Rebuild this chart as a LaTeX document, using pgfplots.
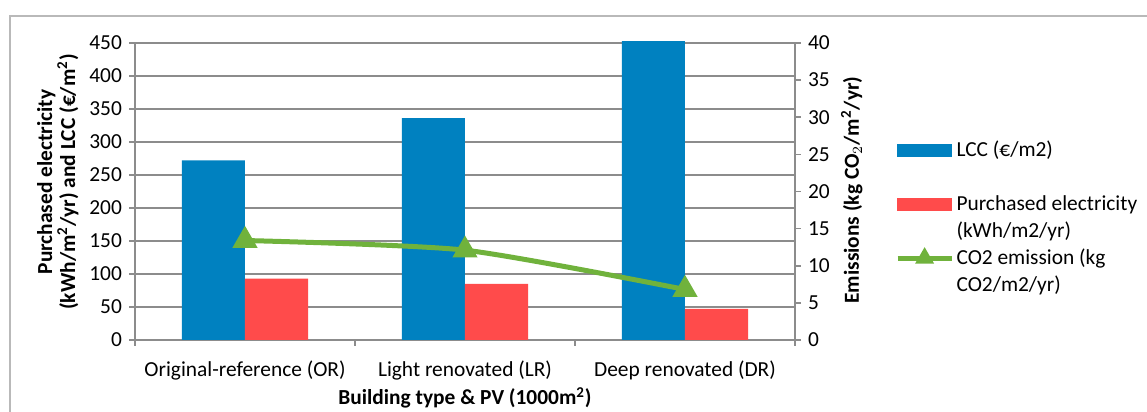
\documentclass[border=0pt]{standalone}
\usepackage{pgfplots}
\pgfplotsset{compat=1.18}
\usepackage{fontspec}
\setmainfont{Carlito}
\definecolor{lccblue}{RGB}{0,129,192}
\definecolor{elred}{RGB}{255,75,75}
\definecolor{co2green}{RGB}{112,178,60}
\definecolor{gridgray}{RGB}{140,140,140}
\definecolor{framegray}{RGB}{185,185,185}
\pgfplotsset{
  co2 legend/.style={legend image code/.code={%
    \draw[mark repeat=2, mark phase=2, mark size=3pt, ##1]
      plot coordinates {(0pt,6.75pt) (13.5pt,6.75pt) (27pt,6.75pt)};}},
}

\begin{document}
\fontsize{10.7}{13.5}\selectfont
\begin{tikzpicture}
\useasboundingbox (0,0) rectangle (573.5pt,206pt);
\draw[framegray, line width=1.2pt] (5pt,-1pt) -- (5pt,198pt) -- (575pt,198pt);
\pgfplotsset{
  common/.style={
    scale only axis, width=330pt, height=148.5pt,
    at={(67.5pt,36pt)}, anchor=south west,
    xmin=-0.5, xmax=2.5,
    /pgf/number format/assume math mode=true,
    tick label style={font=\fontsize{10.7}{13}\selectfont},
    axis line style={gridgray, line width=0.8pt},
    tick style={gridgray, line width=0.8pt},
    tick align=outside, major tick length=2.8pt,
  }
}
\begin{axis}[common,
  ybar=0pt, bar width=31.5pt, clip=false,
  ymin=0, ymax=450, ytick={0,50,...,450},
  axis y line*=left, axis x line*=bottom,
  ymajorgrids, major grid style={gridgray, line width=0.8pt},
  xtick={-0.5,0.5,1.5,2.5}, x tick label as interval,
  xticklabels={Original-reference (OR), Light renovated (LR), Deep renovated (DR)},
  x tick label style={yshift=-4pt},
  xlabel={Building type \& PV (1000m\textsuperscript{2})},
  every axis x label/.style={at={(axis description cs:0.5,-0.195)}, anchor=center,
    font=\fontsize{10.7}{13.5}\selectfont\bfseries},
  ylabel={Purchased electricity\\(kWh/m\textsuperscript{2}/yr) and LCC (€/m\textsuperscript{2})},
  every axis y label/.style={at={(axis description cs:-0.117,0.532)}, rotate=90, anchor=center,
    align=center, font=\fontsize{10.7}{11.5}\selectfont\bfseries},
]
\addplot[fill=lccblue, draw=none] coordinates {(0,272) (1,336) (2,453)};
\addplot[fill=elred, draw=none] coordinates {(0,93) (1,85) (2,47)};
\end{axis}
\begin{axis}[common,
  ymin=0, ymax=40, ytick={0,5,...,40},
  axis y line*=right, axis x line=none,
  ylabel={Emissions (kg CO$_2$/m\textsuperscript{2}/yr)},
  every axis y label/.style={at={(axis description cs:1.086,0.505)}, rotate=90, anchor=center,
    font=\fontsize{10.7}{13.5}\selectfont\bfseries},
  legend style={draw=none, fill=none, at={(axis description cs:1.142,0.693)}, anchor=north west,
    row sep=1.8pt,
    nodes={align=left, inner sep=1.2pt, font=\fontsize{10.7}{13.5}\selectfont}},
  legend cell align=left,
]
\addlegendimage{legend image code/.code={\fill[lccblue] (0pt,3.75pt) rectangle (27pt,9.75pt);}}
\addlegendentry{LCC (€/m2)\\\mbox{}}
\addlegendimage{legend image code/.code={\fill[elred] (0pt,3.75pt) rectangle (27pt,9.75pt);}}
\addlegendentry{Purchased electricity\\(kWh/m2/yr)}
\addplot[co2green, line width=2.5pt, smooth, tension=0.4,
  mark=triangle*, mark size=4.8pt, mark options={solid}, co2 legend]
  coordinates {(0,13.4) (1,12.1) (2,6.8)};
\addlegendentry{CO2 emission (kg\\CO2/m2/yr)}
\end{axis}
\end{tikzpicture}
\end{document}
